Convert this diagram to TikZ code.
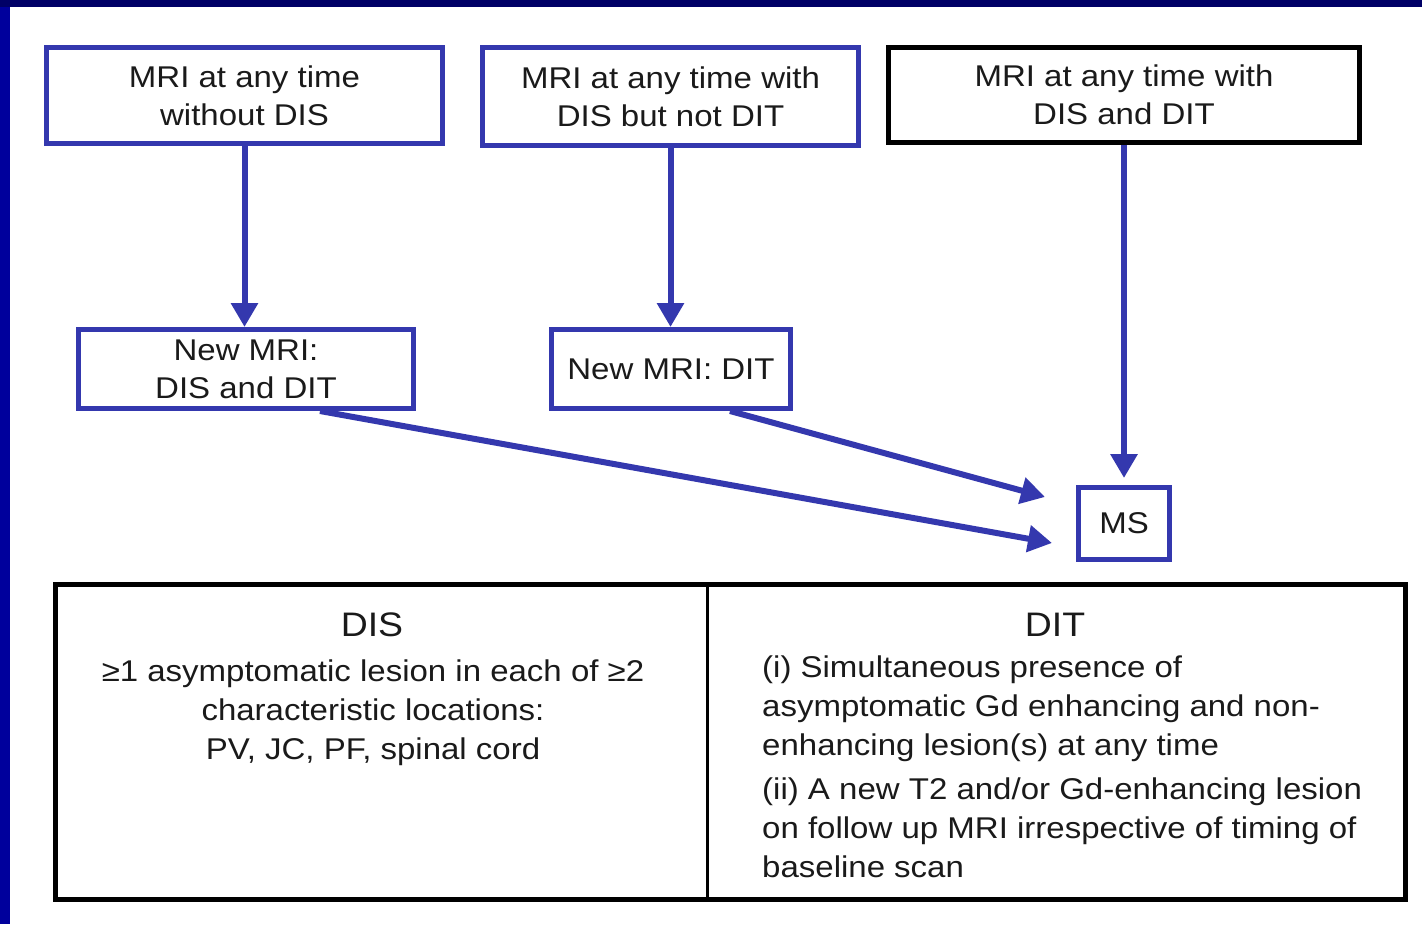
\documentclass[tikz,border=0pt]{standalone}
\usepackage{fontspec}
\setmainfont{Liberation Sans}[FakeStretch=1.1]
\usepackage{xcolor}
\definecolor{slideNavy}{HTML}{000066}
\definecolor{slideBlue}{HTML}{00009C}
\definecolor{mriBlue}{HTML}{3438AE}
\definecolor{textGray}{HTML}{1A1A1A}
\usepackage{tikz}
\usetikzlibrary{positioning, arrows.meta}

\newcommand{\mrifont}{\fontsize{30}{38}\selectfont}
\newcommand{\tabfont}{\fontsize{30}{39}\selectfont}
\newcommand{\headfont}{\fontsize{34}{40}\selectfont}

\tikzset{
  mribox/.style={draw=mriBlue, line width=5pt, inner sep=0pt, align=center, font=\mrifont, text=textGray},
  mriarrow/.style={mriBlue, line width=6pt, -{Triangle[length=24pt, width=26pt]}},
  tabtext/.style={font=\tabfont, text=textGray},
}

\begin{document}
\begin{tikzpicture}[x=1pt, y=-1pt]
  \useasboundingbox (0,0) rectangle (1422,924);
  \fill[white] (0,0) rectangle (1422,924);
  \fill[slideNavy] (0,0) rectangle (1422,7);
  \fill[slideBlue] (0,7) rectangle (10,924);

  \node[mribox, minimum width=396pt, minimum height=96pt] (anyNoDis) at (244.5,95.5) {MRI at any time\\without DIS};
  \node[mribox, minimum width=376pt, minimum height=98pt] (anyDis) at (670.5,96.5) {MRI at any time with\\DIS but not DIT};
  \node[mribox, draw=black, minimum width=471pt, minimum height=95pt] (anyDisDit) at (1124,95) {MRI at any time with\\DIS and DIT};

  \node[mribox, minimum width=335pt, minimum height=79pt] (newDisDit) at (246,369) {New MRI:\\DIS and DIT};
  \node[mribox, minimum width=239pt, minimum height=79pt] (newDit) at (671,369) {New MRI: DIT};
  \node[mribox, minimum width=91pt, minimum height=72pt] (ms) at (1124,523.5) {MS};

  \draw[mriarrow] (anyNoDis.south) -- (anyNoDis.south |- newDisDit.north);
  \draw[mriarrow] (anyDis.south) -- (anyDis.south |- newDit.north);
  \draw[mriarrow, shorten >=7pt] (anyDisDit.south) -- (ms.north);
  \draw[mriarrow] ([xshift=74pt]newDisDit.south) -- ([xshift=-24pt, yshift=-19.5pt]ms.west);
  \draw[mriarrow] ([xshift=59pt]newDit.south) -- ([xshift=-31pt, yshift=26.5pt]ms.west);

  % criteria table
  \node[draw=black, line width=5pt, inner sep=0pt, minimum width=1350pt, minimum height=315pt] (criteria) at (730.5,742) {};
  \draw[black, line width=3pt] (criteria.north -| 707,0) -- (criteria.south -| 707,0);

  \node[tabtext, font=\headfont, anchor=base] (disHead) at (372,636) {DIS};
  \node[tabtext, align=center, anchor=base] (disText) at (373,759)
    {≥1 asymptomatic lesion in each of ≥2\\characteristic locations:\\PV, JC, PF, spinal cord};

  \node[tabtext, font=\headfont, anchor=base] (ditHead) at (1055,636) {DIT};
  \node[tabtext, align=left, anchor=base west, inner sep=0pt] (ditOne) at (762,755)
    {(i) Simultaneous presence of\\asymptomatic Gd enhancing and non-\\enhancing lesion(s) at any time};
  \node[tabtext, align=left, anchor=base west, inner sep=0pt] (ditTwo) at (762,877)
    {(ii) A new T2 and/or Gd-enhancing lesion\\on follow up MRI irrespective of timing of\\baseline scan};
\end{tikzpicture}
\end{document}
